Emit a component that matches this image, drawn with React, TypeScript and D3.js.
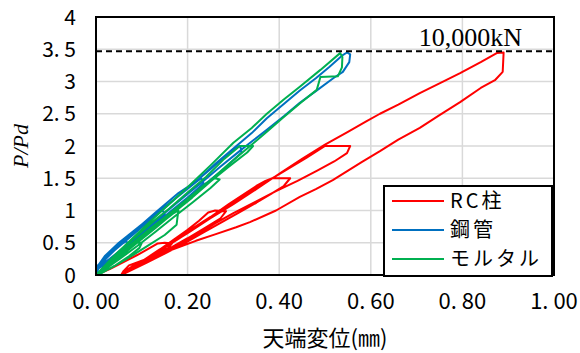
import React, { useEffect, useRef } from "react";
import * as d3 from "d3";

// axis ticks
const xTicks = [0, 0.2, 0.4, 0.6, 0.8, 1.0];
const xTickLabels = ["0. 00", "0. 20", "0. 40", "0. 60", "0. 80", "1. 00"];
const yTicks = [0, 0.5, 1, 1.5, 2, 2.5, 3, 3.5, 4];
const yTickLabels = ["0", "0. 5", "1", "1. 5", "2", "2. 5", "3", "3. 5", "4"];

const seriesNames = ["RC柱", "鋼管", "モルタル"];
const seriesColors = ["#ff0000", "#0070c0", "#00b050"];

// 10,000kN design load line (P/Pd)
const capacityLine = 3.47;
const capacityLabel = "10,000kN";

// [displacement (mm), P/Pd]
const rcColumn: [number, number][] = [
  [0, 0], [0.03, 0.09], [0.06, 0.2], [0.09, 0.31], [0.115, 0.41], [0.135, 0.49], [0.15, 0.5], [0.166, 0.49],
  [0.158, 0.42], [0.135, 0.34], [0.11, 0.25], [0.085, 0.16], [0.065, 0.07], [0.055, 0],
  [0.08, 0.12], [0.11, 0.26], [0.14, 0.4], [0.17, 0.55], [0.2, 0.7], [0.225, 0.84], [0.245, 0.97], [0.26, 1.0], [0.284, 0.99],
  [0.272, 0.88], [0.24, 0.74], [0.2, 0.57], [0.16, 0.41], [0.12, 0.26], [0.09, 0.14], [0.065, 0.04], [0.055, 0],
  [0.09, 0.16], [0.13, 0.34], [0.17, 0.53], [0.21, 0.72], [0.25, 0.9], [0.29, 1.1], [0.32, 1.24], [0.35, 1.38], [0.37, 1.46], [0.385, 1.5], [0.424, 1.5],
  [0.41, 1.38], [0.385, 1.27], [0.35, 1.12], [0.31, 0.96], [0.27, 0.8], [0.23, 0.64], [0.19, 0.48], [0.15, 0.33], [0.11, 0.19], [0.075, 0.07], [0.055, 0],
  [0.1, 0.2], [0.14, 0.38], [0.18, 0.56], [0.22, 0.75], [0.26, 0.94], [0.3, 1.12], [0.34, 1.3], [0.38, 1.48], [0.42, 1.65], [0.46, 1.82], [0.5, 2.0], [0.555, 2.0],
  [0.548, 1.89], [0.52, 1.76], [0.483, 1.62], [0.44, 1.46], [0.393, 1.3], [0.35, 1.14], [0.3, 0.96], [0.26, 0.8], [0.22, 0.63], [0.18, 0.47], [0.14, 0.32], [0.1, 0.18], [0.07, 0.06], [0.055, 0],
  [0.1, 0.21], [0.15, 0.43], [0.2, 0.65], [0.25, 0.88], [0.3, 1.1], [0.35, 1.33], [0.4, 1.57], [0.45, 1.8], [0.5, 2.02], [0.55, 2.22], [0.59, 2.38], [0.62, 2.5], [0.66, 2.64], [0.707, 2.82], [0.75, 2.97], [0.795, 3.13], [0.84, 3.3], [0.875, 3.44], [0.89, 3.45],
  [0.888, 3.15], [0.871, 3.02], [0.84, 2.9], [0.795, 2.68], [0.75, 2.48], [0.707, 2.28], [0.66, 2.1], [0.62, 1.92], [0.58, 1.75], [0.517, 1.47], [0.48, 1.33], [0.445, 1.21], [0.393, 1.0], [0.336, 0.82], [0.306, 0.74], [0.26, 0.63], [0.218, 0.53], [0.18, 0.43], [0.146, 0.34], [0.1, 0.22], [0.072, 0.15], [0.06, 0.06], [0.055, 0], [0, 0],
];

const steelPipe: [number, number][] = [
  [0, 0], [0.01, 0.18], [0.03, 0.33], [0.05, 0.45], [0.065, 0.52], [0.07, 0.5], [0.055, 0.38], [0.035, 0.25], [0.015, 0.15], [0, 0.1],
  [0.02, 0.3], [0.05, 0.5], [0.08, 0.67], [0.11, 0.84], [0.135, 0.98], [0.145, 1.0], [0.15, 0.95], [0.125, 0.78], [0.095, 0.6], [0.06, 0.4], [0.03, 0.22], [0, 0.12],
  [0.03, 0.33], [0.07, 0.58], [0.11, 0.82], [0.15, 1.05], [0.19, 1.28], [0.22, 1.45], [0.23, 1.5], [0.235, 1.42], [0.2, 1.2], [0.16, 0.97], [0.12, 0.73], [0.08, 0.5], [0.04, 0.28], [0, 0.1],
  [0.04, 0.38], [0.08, 0.62], [0.12, 0.86], [0.16, 1.1], [0.2, 1.35], [0.24, 1.58], [0.28, 1.82], [0.305, 1.97], [0.315, 2.0], [0.318, 1.9], [0.28, 1.65], [0.24, 1.42], [0.2, 1.17], [0.16, 0.93], [0.12, 0.7], [0.08, 0.47], [0.04, 0.25], [0, 0.08],
  [0.04, 0.4], [0.08, 0.66], [0.13, 0.97], [0.18, 1.27], [0.218, 1.45], [0.26, 1.72], [0.3, 1.96], [0.34, 2.2], [0.373, 2.43], [0.41, 2.65], [0.445, 2.86], [0.48, 3.05], [0.51, 3.23], [0.537, 3.4], [0.548, 3.45], [0.555, 3.42], [0.553, 3.3], [0.539, 3.15], [0.518, 3.05],
  [0.48, 2.85], [0.445, 2.67], [0.41, 2.46], [0.373, 2.25], [0.34, 2.07], [0.308, 1.89], [0.27, 1.67], [0.23, 1.43], [0.19, 1.2], [0.15, 0.96], [0.11, 0.72], [0.07, 0.48], [0.03, 0.25], [0, 0.1],
];

const mortar: [number, number][] = [
  [0, 0], [0.02, 0.12], [0.05, 0.3], [0.08, 0.47], [0.09, 0.5], [0.1, 0.5], [0.095, 0.42], [0.07, 0.28], [0.04, 0.14], [0.01, 0.02], [0, 0],
  [0.03, 0.2], [0.07, 0.42], [0.11, 0.64], [0.15, 0.85], [0.17, 0.96], [0.18, 1.0], [0.178, 0.9], [0.176, 0.78], [0.15, 0.62], [0.11, 0.44], [0.07, 0.26], [0.03, 0.1], [0, 0],
  [0.04, 0.27], [0.08, 0.5], [0.12, 0.73], [0.16, 0.95], [0.2, 1.18], [0.24, 1.42], [0.26, 1.5], [0.27, 1.48], [0.25, 1.35], [0.21, 1.12], [0.17, 0.9], [0.13, 0.67], [0.09, 0.45], [0.05, 0.24], [0.01, 0.04], [0, 0],
  [0.04, 0.3], [0.08, 0.55], [0.12, 0.8], [0.16, 1.03], [0.2, 1.28], [0.24, 1.52], [0.28, 1.8], [0.314, 2.0], [0.343, 2.0], [0.33, 1.9], [0.29, 1.68], [0.25, 1.45], [0.21, 1.2], [0.17, 0.97], [0.13, 0.73], [0.09, 0.5], [0.05, 0.27], [0.01, 0.05], [0, 0],
  [0.04, 0.3], [0.08, 0.57], [0.12, 0.84], [0.16, 1.1], [0.2, 1.36], [0.25, 1.7], [0.3, 2.05], [0.34, 2.28], [0.373, 2.5], [0.41, 2.72], [0.445, 2.92], [0.49, 3.18], [0.533, 3.44], [0.538, 3.38], [0.537, 3.22], [0.528, 3.08], [0.49, 3.07],
  [0.482, 2.87], [0.445, 2.66], [0.41, 2.45], [0.373, 2.22], [0.33, 1.96], [0.29, 1.72], [0.25, 1.47], [0.21, 1.22], [0.17, 0.98], [0.13, 0.74], [0.09, 0.5], [0.05, 0.27], [0.01, 0.05], [0, 0],
];

const allSeries = [rcColumn, steelPipe, mortar];

const App = () => {
  const svgRef = useRef<SVGSVGElement>(null);

  useEffect(() => {
    const width = 580;
    const height = 353;
    const margin = { top: 17, right: 26, bottom: 78, left: 96 };
    const innerW = width - margin.left - margin.right;
    const innerH = height - margin.top - margin.bottom;
    const jpFont = "'Noto Sans CJK JP', sans-serif";

    const svg = d3.select(svgRef.current);
    svg.selectAll("*").remove();
    svg.attr("width", width).attr("height", height).style("background", "#fff");

    const g = svg.append("g").attr("transform", `translate(${margin.left},${margin.top})`);

    const x = d3.scaleLinear().domain([0, 1]).range([0, innerW]);
    const y = d3.scaleLinear().domain([0, 4]).range([innerH, 0]);

    // grid
    g.selectAll(".vgrid")
      .data(xTicks.slice(1, -1))
      .enter()
      .append("line")
      .attr("x1", (d) => x(d))
      .attr("x2", (d) => x(d))
      .attr("y1", 0)
      .attr("y2", innerH)
      .style("stroke", "#d9d9d9")
      .style("stroke-width", 1.5);

    g.selectAll(".hgrid")
      .data(yTicks.slice(1, -1))
      .enter()
      .append("line")
      .attr("x1", 0)
      .attr("x2", innerW)
      .attr("y1", (d) => y(d))
      .attr("y2", (d) => y(d))
      .style("stroke", "#d9d9d9")
      .style("stroke-width", 1.5);

    // hysteresis loops
    const line = d3
      .line<[number, number]>()
      .x((d) => x(d[0]))
      .y((d) => y(d[1]));

    allSeries.forEach((s, i) => {
      g.append("path")
        .datum(s)
        .attr("d", line)
        .attr("fill", "none")
        .attr("stroke", seriesColors[i])
        .attr("stroke-width", 2)
        .attr("stroke-linejoin", "round");
    });

    // 10,000kN line
    g.append("line")
      .attr("x1", 0)
      .attr("x2", innerW)
      .attr("y1", y(capacityLine))
      .attr("y2", y(capacityLine))
      .style("stroke", "#000")
      .style("stroke-width", 2)
      .style("stroke-dasharray", "6,4");

    g.append("text")
      .attr("x", innerW - 32)
      .attr("y", y(capacityLine) - 5)
      .attr("text-anchor", "end")
      .style("font-family", "'Liberation Serif', 'Times New Roman', serif")
      .style("font-size", "26px")
      .style("fill", "#000")
      .text(capacityLabel);

    // plot border
    g.append("rect")
      .attr("x", 0)
      .attr("y", 0)
      .attr("width", innerW)
      .attr("height", innerH)
      .attr("fill", "none")
      .style("stroke", "#000")
      .style("stroke-width", 2);

    // tick labels
    g.selectAll(".ytick")
      .data(yTicks)
      .enter()
      .append("text")
      .attr("x", -20)
      .attr("y", (d) => y(d))
      .attr("dy", "0.36em")
      .attr("text-anchor", "end")
      .style("font-family", jpFont)
      .style("font-size", "21px")
      .style("fill", "#000")
      .text((d, i) => yTickLabels[i]);

    g.selectAll(".xtick")
      .data(xTicks)
      .enter()
      .append("text")
      .attr("x", (d) => x(d))
      .attr("y", innerH + 26)
      .attr("dy", "0.36em")
      .attr("text-anchor", "middle")
      .style("font-family", jpFont)
      .style("font-size", "22px")
      .style("fill", "#000")
      .text((d, i) => xTickLabels[i]);

    // axis titles
    svg.append("text")
      .attr("x", margin.left + innerW / 2)
      .attr("y", 346)
      .attr("text-anchor", "middle")
      .style("font-family", jpFont)
      .style("font-size", "22px")
      .style("fill", "#000")
      .text("天端変位(㎜)");

    svg.append("text")
      .attr("transform", `translate(28,${margin.top + y(2)}) rotate(-90)`)
      .attr("text-anchor", "middle")
      .style("font-family", "'Liberation Serif', 'Times New Roman', serif")
      .style("font-style", "italic")
      .style("font-size", "22px")
      .style("fill", "#000")
      .text("P/Pd");

    // legend
    const legend = svg.append("g").attr("transform", "translate(384,186)");
    legend.append("rect")
      .attr("width", 168)
      .attr("height", 90)
      .attr("fill", "#fff")
      .style("stroke", "#000")
      .style("stroke-width", 2);

    seriesNames.forEach((name, i) => {
      const row = legend.append("g").attr("transform", `translate(0,${15 + i * 29})`);
      row.append("line")
        .attr("x1", 8)
        .attr("x2", 60)
        .attr("y1", 0)
        .attr("y2", 0)
        .style("stroke", seriesColors[i])
        .style("stroke-width", 2);
      row.append("text")
        .attr("x", 66)
        .attr("y", 0)
        .attr("dy", "0.36em")
        .style("font-family", jpFont)
        .style("font-size", "20px")
        .style("letter-spacing", "3px")
        .style("fill", "#000")
        .text(name);
    });
  }, []);

  return (
    <svg ref={svgRef} style={{ position: "absolute", left: 0, top: 0, display: "block" }} />
  );
};

export default App;
